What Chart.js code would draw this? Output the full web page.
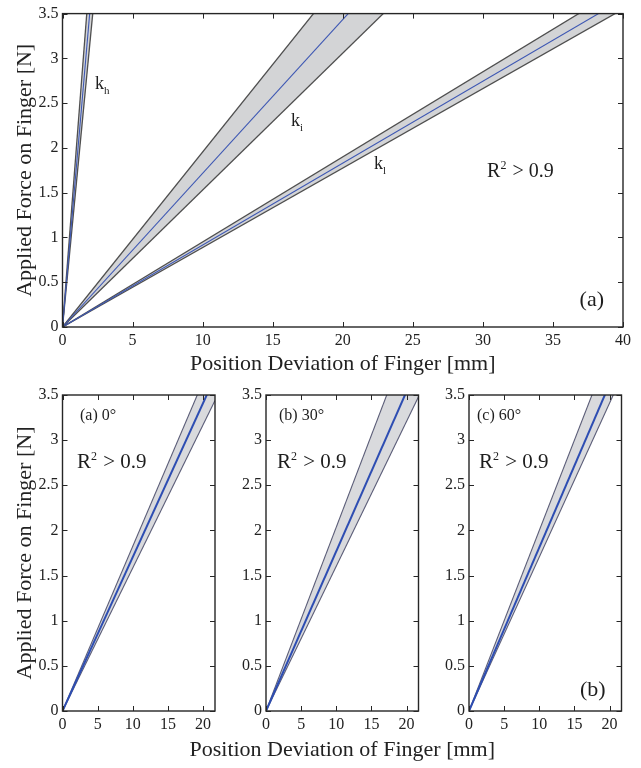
<!DOCTYPE html>
<html><head><meta charset="utf-8">
<script src="https://cdn.jsdelivr.net/npm/chart.js@4.4.1/dist/chart.umd.min.js"></script>
<style>
html,body{margin:0;padding:0;background:#fff;}
#wrap{position:relative;width:641px;height:768px;overflow:hidden;background:#fff;}
canvas{position:absolute;left:0;}
</style></head><body>
<div id="wrap">
<canvas id="cTop" width="641" height="376" style="top:0px"></canvas>
<canvas id="cA" width="641" height="388" style="top:380px"></canvas>
<canvas id="cB" width="641" height="388" style="top:380px"></canvas>
<canvas id="cC" width="641" height="388" style="top:380px"></canvas>
</div>
<script>
// ---------- data ----------
const topXTicks = [0, 5, 10, 15, 20, 25, 30, 35, 40];
const forceTicks = [0, 0.5, 1, 1.5, 2, 2.5, 3, 3.5];
const angleXTicks = [0, 5, 10, 15, 20];

// top panel bands: x positions [mm] and force [N]
const khX = [0, 2.3];
const khUpper = [0, 4.65];
const khFit = [0, 4.15];
const khLower = [0, 3.73];

const kiX = [0, 24];
const kiUpper = [0, 4.69];
const kiFit = [0, 4.12];
const kiLower = [0, 3.67];

const klX = [0, 40];
const klUpper = [0, 3.80];
const klFit = [0, 3.66];
const klLower = [0, 3.55];

// bottom panels (0°, 30°, 60°)
const angX = [0, 21.7];
const a0Upper = [0, 3.96];
const a0Fit = [0, 3.70];
const a0Lower = [0, 3.44];

const a30Upper = [0, 4.42];
const a30Fit = [0, 3.84];
const a30Lower = [0, 3.48];

const a60Upper = [0, 4.34];
const a60Fit = [0, 3.93];
const a60Lower = [0, 3.70];

// ---------- styling / helpers ----------
const FONT = '"Liberation Serif", "Times New Roman", serif';
Chart.defaults.font.family = FONT;
Chart.defaults.color = '#222';

function pts(xs, ys) { return xs.map((x, i) => ({x: x, y: ys[i]})); }

function band(xs, up, fit, lo, st) {
  return [
    {data: pts(xs, fit), borderColor: st.fit, borderWidth: st.fitW, pointRadius: 0, fill: false, tension: 0},
    {data: pts(xs, up), borderColor: st.edge, borderWidth: st.edgeW, pointRadius: 0, fill: '+1', backgroundColor: st.fill, tension: 0},
    {data: pts(xs, lo), borderColor: st.edge, borderWidth: st.edgeW, pointRadius: 0, fill: false, tension: 0}
  ];
}

const topStyle = {fit: '#3d57b3', fitW: 1.1, edge: '#4f4f4f', edgeW: 1.3, fill: '#d3d4d6'};
const botStyle = {fit: '#2d4db2', fitW: 2, edge: '#5b5d78', edgeW: 1.1, fill: '#d9dadd'};

const boxPlugin = {
  id: 'box',
  afterDatasetsDraw(chart) {
    const {ctx, chartArea: a, scales: {x, y}} = chart;
    ctx.save();
    ctx.strokeStyle = '#262626';
    ctx.lineWidth = 1.4;
    ctx.strokeRect(a.left, a.top, a.right - a.left, a.bottom - a.top);
    ctx.lineWidth = 1;
    const L = 5;
    ctx.beginPath();
    x.ticks.forEach(t => {
      const p = Math.round(x.getPixelForValue(t.value)) + 0.5;
      ctx.moveTo(p, a.bottom); ctx.lineTo(p, a.bottom - L);
      ctx.moveTo(p, a.top); ctx.lineTo(p, a.top + L);
    });
    y.ticks.forEach(t => {
      const p = Math.round(y.getPixelForValue(t.value)) + 0.5;
      ctx.moveTo(a.left, p); ctx.lineTo(a.left + L, p);
      ctx.moveTo(a.right, p); ctx.lineTo(a.right - L, p);
    });
    ctx.stroke();
    ctx.restore();
  }
};

const notesPlugin = {
  id: 'notes',
  afterDraw(chart, args, opts) {
    const {ctx, scales: {x, y}} = chart;
    (opts.items || []).forEach(it => {
      let px = x.getPixelForValue(it.x);
      const py = y.getPixelForValue(it.y);
      ctx.save();
      ctx.fillStyle = '#1e1e1e';
      ctx.textAlign = 'left';
      ctx.textBaseline = 'alphabetic';
      it.parts.forEach(p => {
        const size = p.sub || p.sup ? it.small : it.size;
        ctx.font = size + 'px ' + FONT;
        let dy = 0;
        if (p.sub) dy = it.size * 0.28;
        if (p.sup) dy = -it.size * 0.38;
        ctx.fillText(p.t, px, py + dy);
        px += ctx.measureText(p.t).width + (p.sub || p.sup ? 1 : 0);
      });
      ctx.restore();
    });
  }
};

const sharedTitlePlugin = {
  id: 'sharedTitle',
  afterDraw(chart, args, opts) {
    if (!opts.text) return;
    const {ctx, chartArea: a} = chart;
    ctx.save();
    ctx.fillStyle = '#222';
    ctx.font = opts.size + 'px ' + FONT;
    ctx.textAlign = 'center';
    ctx.textBaseline = 'middle';
    ctx.fillText(opts.text, (a.left + a.right) / 2, chart.height - opts.fromBottom);
    ctx.restore();
  }
};

Chart.register(boxPlugin, notesPlugin, sharedTitlePlugin);

function axis(min, max, tickArr, extra) {
  return Object.assign({
    type: 'linear', min: min, max: max,
    afterBuildTicks: s => { s.ticks = tickArr.map(v => ({value: v})); },
    ticks: {font: {size: 16}, padding: 4, maxRotation: 0, autoSkip: false, callback: v => String(v)},
    grid: {display: false, drawTicks: false, tickLength: 0},
    border: {display: false}
  }, extra);
}

const R2 = (x, y, size) => ({x: x, y: y, size: size, small: 12, parts: [{t: 'R'}, {t: '2', sup: true}, {t: ' > 0.9'}]});
const TITLE_FONT = {size: 22, lineHeight: 1};

// ---------- top chart ----------
new Chart(document.getElementById('cTop'), {
  type: 'line',
  data: {datasets: [].concat(
    band(khX, khUpper, khFit, khLower, topStyle),
    band(kiX, kiUpper, kiFit, kiLower, topStyle),
    band(klX, klUpper, klFit, klLower, topStyle))},
  options: {
    responsive: false, animation: false, devicePixelRatio: 1,
    layout: {padding: {left: 0, right: 18, top: 10, bottom: 0}},
    plugins: {
      legend: {display: false}, tooltip: {enabled: false},
      filler: {drawTime: 'beforeDatasetsDraw'},
      notes: {items: [
        {x: 2.32, y: 2.66, size: 18, small: 11, parts: [{t: 'k'}, {t: 'h', sub: true}]},
        {x: 16.3, y: 2.25, size: 18, small: 11, parts: [{t: 'k'}, {t: 'i', sub: true}]},
        {x: 22.23, y: 1.76, size: 18, small: 11, parts: [{t: 'k'}, {t: 'l', sub: true}]},
        R2(30.3, 1.68, 20),
        {x: 36.9, y: 0.23, size: 22, small: 12, parts: [{t: '(a)'}]}
      ]}
    },
    scales: {
      x: axis(0, 40, topXTicks, {
        title: {display: true, text: 'Position Deviation of Finger [mm]', font: TITLE_FONT, padding: {top: 0, bottom: 1}},
        afterFit: s => { s.height = 49; }
      }),
      y: axis(0, 3.5, forceTicks, {
        title: {display: true, text: 'Applied Force on Finger [N]', font: TITLE_FONT, padding: {top: 14, bottom: 0}},
        afterFit: s => { s.width = 62.5; }
      })
    }
  }
});

// ---------- bottom charts ----------
function angleChart(id, up, fit, lo, padL, yW, padR, notes, yTitle, shared) {
  return new Chart(document.getElementById(id), {
    type: 'line',
    data: {datasets: band(angX, up, fit, lo, botStyle)},
    options: {
      responsive: false, animation: false, devicePixelRatio: 1,
      layout: {padding: {left: padL, right: padR, top: 15, bottom: 0}},
      plugins: {
        legend: {display: false}, tooltip: {enabled: false},
        filler: {drawTime: 'beforeDatasetsDraw'},
        notes: {items: notes},
        sharedTitle: shared || {}
      },
      scales: {
        x: axis(0, 21.7, angleXTicks, {afterFit: s => { s.height = 57; }}),
        y: axis(0, 3.5, forceTicks, Object.assign({afterFit: s => { s.width = yW; }},
          yTitle ? {title: {display: true, text: yTitle, font: TITLE_FONT, padding: {top: 14, bottom: 0}}} : {}))
      }
    }
  });
}

angleChart('cA', a0Upper, a0Fit, a0Lower, 0, 62.5, 426, [
  {x: 2.49, y: 3.22, size: 16, small: 10, parts: [{t: '(a) 0°'}]},
  R2(2.06, 2.69, 21)
], 'Applied Force on Finger [N]');

angleChart('cB', a30Upper, a30Fit, a30Lower, 226, 40, 222.5, [
  {x: 1.85, y: 3.22, size: 16, small: 10, parts: [{t: '(b) 30°'}]},
  R2(1.56, 2.69, 21)
], null, {text: 'Position Deviation of Finger [mm]', size: 22, fromBottom: 18});

angleChart('cC', a60Upper, a60Fit, a60Lower, 429, 40, 19.5, [
  {x: 1.14, y: 3.22, size: 16, small: 10, parts: [{t: '(c) 60°'}]},
  R2(1.42, 2.69, 21),
  {x: 15.8, y: 0.17, size: 22, small: 12, parts: [{t: '(b)'}]}
], null);
</script>
</body></html>
